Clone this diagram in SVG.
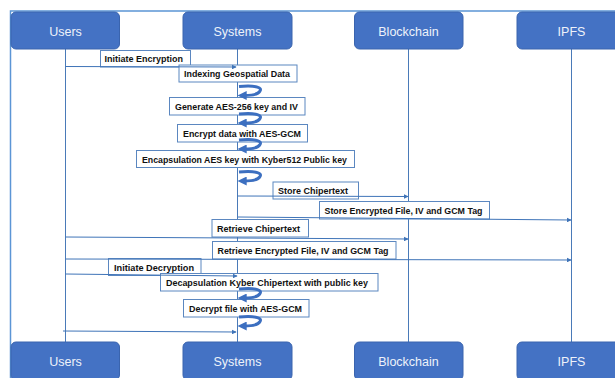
<svg xmlns="http://www.w3.org/2000/svg" width="615" height="378" viewBox="0 0 615 378">
<defs>
<style>
.hdr{fill:#4472c4;stroke:#3a64ae;stroke-width:1}
.htx{font-family:"Liberation Sans",Arial,sans-serif;font-size:12.5px;fill:#eef2fa;text-anchor:middle}
.life{stroke:#4a7ab8;stroke-width:1;fill:none}
.lbl{fill:#fff;stroke:#5b87c0;stroke-width:1}
.ltx{font-family:"Liberation Sans",Arial,sans-serif;font-size:9.6px;font-weight:bold;fill:#111}
.msg{stroke:#3f74b8;stroke-width:1;fill:none;marker-end:url(#ah)}
.loop{stroke:#3c6fc0;stroke-width:3;fill:none;marker-end:url(#lh)}
</style>
<marker id="ah" viewBox="0 0 8 8" refX="7" refY="4" markerWidth="5" markerHeight="5" orient="auto" markerUnits="userSpaceOnUse">
<path d="M0,0 L8,4 L0,8 z" fill="#3f74b8"/>
</marker>
<marker id="lh" viewBox="0 0 10 10" refX="3" refY="5" markerWidth="3" markerHeight="3" orient="auto">
<path d="M0,0 L10,5 L0,10 z" fill="#3c6fc0"/>
</marker>
</defs>
<rect width="615" height="378" fill="#fff"/>
<path d="M10.5,378 V11 H615" fill="none" stroke="#5b95d5" stroke-width="1.5"/>

<g id="lifelines">
<line class="life" x1="65.5" y1="49" x2="65.5" y2="342"/>
<line class="life" x1="237.5" y1="49" x2="237.5" y2="342"/>
<line class="life" x1="408.5" y1="49" x2="408.5" y2="342"/>
<line class="life" x1="571.5" y1="49" x2="571.5" y2="342"/>
</g>

<g id="labels">
<g id="m1"><rect class="lbl" x="100.5" y="50.5" width="90" height="16.5"/><text class="ltx" x="104.5" y="62.3" textLength="78.5" lengthAdjust="spacingAndGlyphs">Initiate Encryption</text></g>
<g id="m2"><rect class="lbl" x="179" y="65" width="118" height="17"/><text class="ltx" x="184" y="77.3" textLength="106" lengthAdjust="spacingAndGlyphs">Indexing Geospatial Data</text></g>
<g id="m3"><rect class="lbl" x="169.5" y="97.5" width="135.5" height="17.5"/><text class="ltx" x="175" y="110" textLength="123" lengthAdjust="spacingAndGlyphs">Generate AES-256 key and IV</text></g>
<g id="m4"><rect class="lbl" x="177.5" y="124.5" width="130" height="17.5"/><text class="ltx" x="183" y="137" textLength="118" lengthAdjust="spacingAndGlyphs">Encrypt data with AES-GCM</text></g>
<g id="m5"><rect class="lbl" x="136.5" y="150.5" width="218" height="17"/><text class="ltx" x="142" y="162.7" textLength="205" lengthAdjust="spacingAndGlyphs">Encapsulation AES key with Kyber512 Public key</text></g>
<g id="m6"><rect class="lbl" x="273" y="182" width="85.5" height="17"/><text class="ltx" x="278" y="194.3" textLength="70" lengthAdjust="spacingAndGlyphs">Store Chipertext</text></g>
<g id="m7"><rect class="lbl" x="319.5" y="201.5" width="170" height="17.5"/><text class="ltx" x="324.5" y="214" textLength="158" lengthAdjust="spacingAndGlyphs">Store Encrypted File, IV and GCM Tag</text></g>
<g id="m8"><rect class="lbl" x="212" y="219.5" width="96.5" height="17.5"/><text class="ltx" x="217" y="232" textLength="83" lengthAdjust="spacingAndGlyphs">Retrieve Chipertext</text></g>
<g id="m9"><rect class="lbl" x="212.5" y="241.5" width="183.5" height="17.5"/><text class="ltx" x="217.5" y="254" textLength="171" lengthAdjust="spacingAndGlyphs">Retrieve Encrypted File, IV and GCM Tag</text></g>
<g id="m10"><rect class="lbl" x="108.5" y="258.5" width="92.5" height="17"/><text class="ltx" x="114" y="270.7" textLength="80" lengthAdjust="spacingAndGlyphs">Initiate Decryption</text></g>
<g id="m11"><rect class="lbl" x="160.5" y="273.5" width="217.5" height="17.5"/><text class="ltx" x="166" y="286" textLength="202" lengthAdjust="spacingAndGlyphs">Decapsulation Kyber Chipertext with public key</text></g>
<g id="m12"><rect class="lbl" x="183.5" y="299.5" width="125.5" height="17.5"/><text class="ltx" x="189" y="312" textLength="113" lengthAdjust="spacingAndGlyphs">Decrypt file with AES-GCM</text></g>
</g>

<g id="connectors">
<line class="msg" x1="65.5" y1="66.5" x2="236" y2="67"/>
<line class="msg" x1="237.5" y1="196" x2="408" y2="196.5"/>
<line class="msg" x1="238" y1="217" x2="571" y2="220"/>
<line class="msg" x1="65.5" y1="237" x2="408" y2="239"/>
<line class="msg" x1="65.5" y1="259" x2="571" y2="260"/>
<line class="msg" x1="65.5" y1="274" x2="237" y2="276"/>
<line class="msg" x1="63" y1="331" x2="236" y2="332"/>
<path class="loop" d="M239,86.5 C258,85 262,88 260,91 C258,95 250,95.5 244,95.5"/>
<path class="loop" d="M239,114 C258,112.5 262,115.5 260,118.5 C258,122.5 250,123 244,123"/>
<path class="loop" d="M239,140 C258,138.5 262,141.5 260,144.5 C258,148.5 250,149 244,149"/>
<path class="loop" d="M239,172 C258,170.5 262,173.5 260,176.5 C258,180.5 250,181 244,181"/>
<path class="loop" d="M239,289 C258,287.5 262,290.5 260,293.5 C258,297.5 250,298 244,298"/>
<path class="loop" d="M239,317 C258,315.5 262,318.5 260,321.5 C258,325.5 250,326 244,326"/>
</g>

<g id="users-top"><rect class="hdr" x="11" y="12" width="108.5" height="37" rx="5"/><text class="htx" x="65.5" y="35.5">Users</text></g>
<g id="systems-top"><rect class="hdr" x="183" y="12" width="109" height="37" rx="5"/><text class="htx" x="237.5" y="35.5">Systems</text></g>
<g id="blockchain-top"><rect class="hdr" x="354.5" y="12" width="108.5" height="37" rx="5"/><text class="htx" x="408.5" y="35.5">Blockchain</text></g>
<g id="ipfs-top"><rect class="hdr" x="517" y="12" width="109" height="37" rx="5"/><text class="htx" x="571.5" y="35.5">IPFS</text></g>

<g id="users-bottom"><rect class="hdr" x="11" y="342" width="108.5" height="38" rx="5"/><text class="htx" x="65.5" y="366">Users</text></g>
<g id="systems-bottom"><rect class="hdr" x="183" y="342" width="109" height="38" rx="5"/><text class="htx" x="237.5" y="366">Systems</text></g>
<g id="blockchain-bottom"><rect class="hdr" x="354.5" y="342" width="108.5" height="38" rx="5"/><text class="htx" x="408.5" y="366">Blockchain</text></g>
<g id="ipfs-bottom"><rect class="hdr" x="517" y="342" width="109" height="38" rx="5"/><text class="htx" x="571.5" y="366">IPFS</text></g>
</svg>
